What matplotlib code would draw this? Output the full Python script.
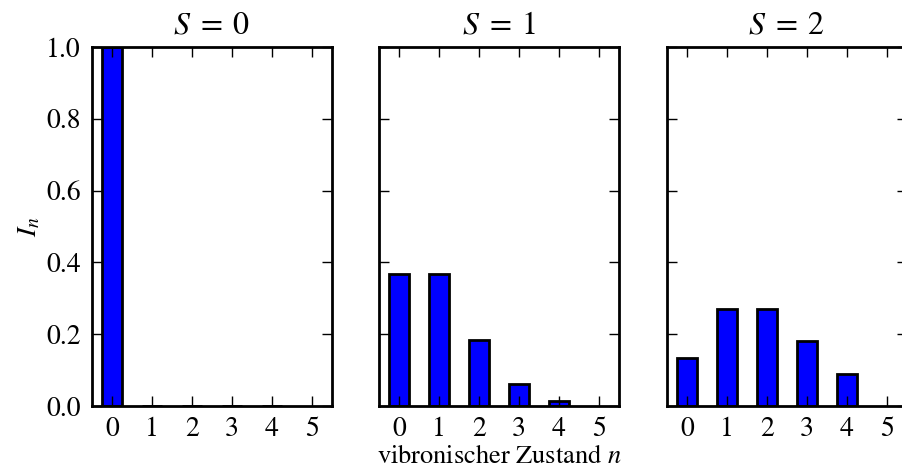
import matplotlib
matplotlib.use("Agg")
import matplotlib.pyplot as plt

plt.rcParams['font.family'] = ['STIXGeneral', 'Liberation Serif', 'DejaVu Serif']
plt.rcParams['mathtext.fontset'] = 'stix'

# vibronic states and intensities
n_states = [0, 1, 2, 3, 4]
S_values = [0, 1, 2]
I_S0 = [1.0, 0.0, 0.0, 0.0, 0.0]
I_S1 = [0.368, 0.368, 0.184, 0.061, 0.015]
I_S2 = [0.135, 0.271, 0.271, 0.180, 0.090]
intensities = [I_S0, I_S1, I_S2]
xticks = [0, 1, 2, 3, 4, 5]

fig = plt.figure(figsize=(9.02, 4.68), dpi=100)
lefts = [0.102, 0.420, 0.7395]
axes = []
for i, (S, data) in enumerate(zip(S_values, intensities)):
    ax = fig.add_axes([lefts[i], 0.1325, 0.266, 0.767])
    ax.bar(n_states, data, width=0.5, align='center', color='blue',
           edgecolor='black', linewidth=2, zorder=1)
    ax.set_xlim(-0.5, 5.5)
    ax.set_ylim(0, 1.0)
    ax.set_xticks(xticks)
    ax.set_yticks([0.0, 0.2, 0.4, 0.6, 0.8, 1.0])
    ax.tick_params(direction='in', top=True, right=True, length=7,
                   width=1, labelsize=20, pad=8)
    for sp in ax.spines.values():
        sp.set_linewidth(2)
        sp.set_zorder(3)
    ax.set_title(r'$S\;=\;%d$' % S, fontsize=23, pad=10)
    if i == 0:
        ax.set_yticklabels(['0.0', '0.2', '0.4', '0.6', '0.8', '1.0'])
        ax.set_ylabel('$I_n$', fontsize=20, labelpad=3)
    else:
        ax.set_yticklabels([])
    if i == 1:
        ax.set_xlabel('vibronischer Zustand $n$', fontsize=19, labelpad=2)
    axes.append(ax)

fig.savefig('out.png', dpi=100)
